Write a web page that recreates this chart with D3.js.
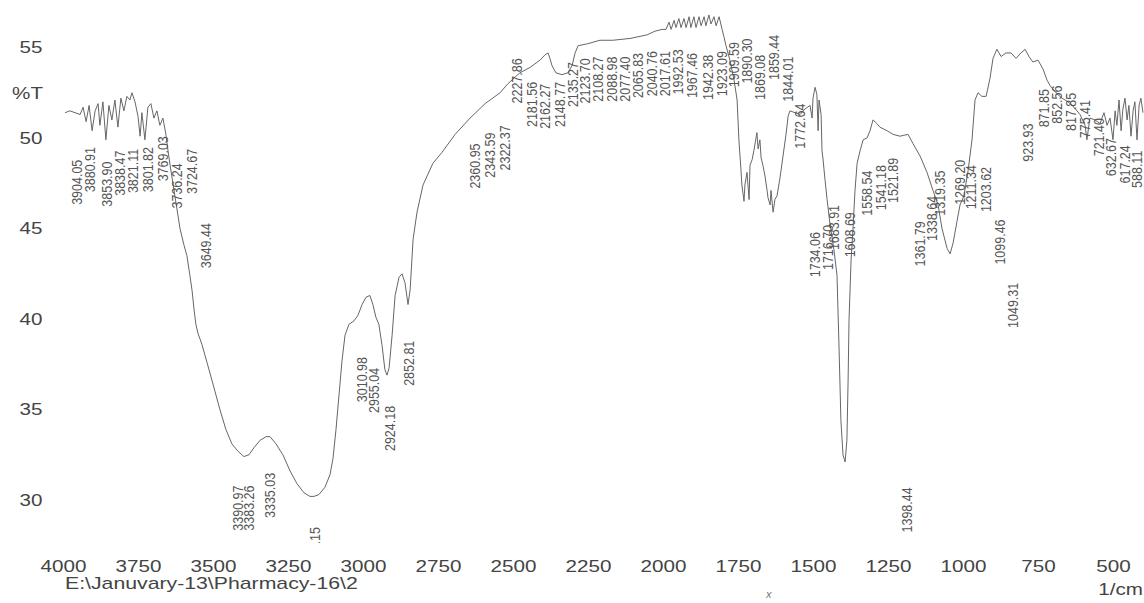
<!DOCTYPE html>
<html><head><meta charset="utf-8">
<script src="https://cdn.jsdelivr.net/npm/d3@7"></script>
<style>
body{margin:0;background:#fff;}
svg{display:block;}
</style></head><body>
<svg id="chart" width="1144" height="603"></svg>
<script>
// ---- data ----
const wavenumber = [3993,3977,3960,3943,3933,3923,3913,3903,3893,3883,3877,3867,3857,3847,3837,3827,3817,3807,3797,3787,3777,3770,3760,3750,3743,3737,3727,3717,3707,3697,3687,3677,3667,3657,3650,3643,3627,3610,3597,3587,3577,3570,3563,3557,3550,3537,3520,3500,3477,3457,3437,3417,3397,3380,3363,3343,3323,3310,3290,3267,3243,3220,3197,3177,3163,3147,3127,3110,3100,3090,3080,3070,3060,3047,3030,3017,3003,2990,2977,2967,2957,2947,2937,2927,2920,2913,2903,2893,2880,2870,2860,2850,2843,2833,2820,2800,2767,2737,2693,2643,2593,2543,2517,2477,2443,2410,2393,2383,2377,2370,2357,2337,2317,2303,2293,2283,2253,2210,2167,2110,2053,2027,2003,1990,1980,1973,1963,1957,1947,1940,1930,1923,1913,1907,1897,1890,1880,1873,1863,1857,1847,1840,1830,1823,1813,1803,1797,1790,1777,1763,1753,1747,1740,1737,1730,1727,1720,1713,1710,1703,1697,1690,1687,1683,1677,1673,1667,1660,1653,1650,1643,1640,1633,1627,1620,1610,1600,1590,1583,1577,1560,1543,1527,1510,1503,1500,1493,1487,1483,1480,1473,1470,1467,1460,1453,1443,1430,1420,1413,1407,1400,1393,1387,1383,1380,1373,1367,1360,1353,1343,1333,1320,1310,1300,1287,1277,1253,1233,1210,1183,1167,1143,1120,1100,1083,1070,1053,1043,1033,1020,1010,997,983,970,960,950,937,923,910,900,887,873,857,840,823,807,793,780,767,750,733,720,710,690,670,650,630,610,593,587,577,560,543,530,520,510,500,493,487,480,473,467,460,453,447,440,433,427,420,413,407,400];
const transmittance = [51.4,51.5,51.4,51.3,51.7,50.9,51.8,50.4,51.5,51.9,50.7,52.0,49.9,51.8,51.0,52.1,50.6,52.2,51.5,52.3,52.1,52.5,52.0,51.2,50.1,51.4,49.9,51.7,51.9,51.1,51.5,50.7,51.1,50.2,49.3,48.5,46.8,45.0,44.1,43.5,42.4,41.6,40.5,39.7,39.2,38.6,37.6,36.4,35.0,33.9,33.1,32.7,32.4,32.5,32.9,33.3,33.5,33.5,33.1,32.5,31.6,30.9,30.4,30.2,30.2,30.3,30.7,31.4,32.3,33.9,35.8,37.7,39.1,39.7,39.9,40.2,40.8,41.2,41.3,40.8,40.1,39.7,38.6,37.2,36.9,37.3,39.1,41.3,42.3,42.5,42.0,40.8,41.6,44.4,45.9,47.4,48.6,49.2,50.2,51.1,51.9,52.5,53.0,53.6,53.9,54.3,54.6,54.7,54.4,54.0,53.6,53.5,53.6,54.0,54.7,55.1,55.2,55.4,55.4,55.5,55.7,55.9,56.0,56.0,56.4,56.0,56.5,56.1,56.6,56.1,56.6,56.1,56.7,56.1,56.7,56.1,56.7,56.2,56.7,56.2,56.8,56.3,56.7,56.2,56.7,56.0,55.6,55.1,54.3,53.2,52.1,49.9,48.2,47.4,46.5,47.4,48.1,46.6,48.5,48.8,49.3,50.0,50.3,49.4,49.9,48.9,48.5,47.9,47.1,46.7,46.3,47.1,45.9,46.6,46.8,47.8,49.0,50.2,51.2,51.5,51.4,51.3,51.6,51.8,51.1,52.2,52.8,52.4,50.4,52.1,51.3,49.3,48.9,47.7,46.6,45.2,43.8,42.4,38.3,34.4,32.5,32.1,33.3,36.6,39.9,43.3,44.9,47.1,48.6,49.3,49.9,50.0,50.4,51.0,50.8,50.6,50.4,50.2,50.1,50.2,49.7,49.0,48.1,47.1,46.3,45.0,43.9,43.6,44.2,45.4,46.3,46.8,48.2,49.9,52.1,52.5,52.3,52.3,53.3,54.4,54.9,54.5,54.7,54.7,54.4,54.7,54.9,54.5,54.2,54.3,53.8,53.2,52.9,52.5,52.2,52.0,51.7,51.3,50.7,49.9,51.1,51.0,50.8,51.4,50.7,51.1,49.9,51.5,50.7,52.1,50.4,51.6,52.2,51.0,51.8,50.1,51.5,52.0,49.9,51.8,52.2,51.4];

const peakLabels = ["3904.05","3880.91","3853.90","3838.47","3821.11","3801.82","3769.03","3736.24","3724.67","3649.44","3390.97","3383.26","3335.03","3163.15","3010.98","2955.04","2924.18","2852.81","2360.95","2343.59","2322.37","2227.86","2181.56","2162.27","2148.77","2135.27","2123.70","2108.27","2088.98","2077.40","2065.83","2040.76","2017.61","1992.53","1967.46","1942.38","1923.09","1909.59","1890.30","1869.08","1859.44","1844.01","1772.64","1734.06","1716.70","1683.91","1608.69","1558.54","1541.18","1521.89","1398.44","1361.79","1338.64","1319.35","1269.20","1211.34","1203.62","1099.46","1049.31","923.93","871.85","852.56","817.85","775.41","721.40","632.67","617.24","588.11"];
// where each label is written (wavenumber of its column, %T at its upper end)
const labelAtW = [3953,3910,3853,3810,3767,3717,3667,3620,3570,3523,3417,3380,3310,3160,3003,2963,2910,2847,2627,2577,2527,2487,2437,2393,2343,2300,2260,2217,2170,2127,2083,2037,1993,1950,1903,1850,1803,1763,1720,1677,1630,1583,1543,1493,1450,1430,1377,1320,1273,1233,1187,1143,1103,1077,1010,973,923,877,833,783,730,687,640,593,547,507,460,420];
const labelAtT = [48.8,49.5,48.7,49.3,49.4,49.5,50.1,48.6,49.4,45.3,30.8,30.8,31.5,28.5,37.9,37.3,35.2,38.8,49.7,50.3,50.7,54.4,53.1,53.0,53.1,54.2,54.4,54.5,54.5,54.5,54.7,54.8,54.8,54.9,54.7,54.6,54.8,55.3,55.5,54.6,55.7,54.5,51.9,44.8,45.2,46.3,45.9,48.2,48.5,48.9,30.7,45.4,46.8,48.2,48.8,48.5,48.4,45.5,42.0,50.8,52.7,52.9,52.5,52.1,51.1,50.0,49.6,49.3];

const xTicks = [4000,3750,3500,3250,3000,2750,2500,2250,2000,1750,1500,1250,1000,750,500];
const yTicks = [55,50,45,40,35,30];
const yTitle = "%T";
const xUnit = "1/cm";
const filePath = "E:\\Januvary-13\\Pharmacy-16\\2";

// ---- drawing ----
const FONT = '"Liberation Sans", Arial, Helvetica, sans-serif';
const svg = d3.select('#chart');
const x = d3.scaleLinear().domain([4000, 400]).range([63, 1143]);
const y = d3.scaleLinear().domain([55, 30]).range([47.5, 500]);

svg.append('defs').append('clipPath').attr('id', 'plotclip')
  .append('rect').attr('x', 0).attr('y', 0).attr('width', 1144).attr('height', 543);

// x axis (labels only)
const gx = svg.append('g').attr('transform', 'translate(0,557.5)')
  .call(d3.axisBottom(x).tickValues(xTicks).tickSize(0).tickPadding(3).tickFormat(d3.format('d')));
gx.select('.domain').remove();
gx.attr('font-family', FONT).attr('font-size', 16.5);
gx.selectAll('text').attr('fill', '#444').attr('transform', 'scale(1.25,1)');

// y axis (labels only)
const gy = svg.append('g').attr('transform', 'translate(45,0)')
  .call(d3.axisLeft(y).tickValues(yTicks).tickSize(0).tickPadding(2));
gy.select('.domain').remove();
gy.attr('font-family', FONT).attr('font-size', 16.5);
gy.selectAll('text').attr('fill', '#444').attr('transform', 'scale(1.25,1)');

svg.append('text').attr('x', 0).attr('y', 0)
  .attr('transform', 'translate(43,99) scale(1.25,1)')
  .attr('text-anchor', 'end').attr('font-family', FONT).attr('font-size', 16.5).attr('fill', '#444')
  .text(yTitle);

// spectrum
const pts = wavenumber.map((w, i) => ({w, t: transmittance[i]}));
svg.append('path').datum(pts)
  .attr('fill', 'none').attr('stroke', '#666').attr('stroke-width', 1)
  .attr('stroke-linejoin', 'round')
  .attr('d', d3.line().x(d => x(d.w)).y(d => y(d.t)));

// peak labels
const gl = svg.append('g').attr('clip-path', 'url(#plotclip)');
gl.selectAll('text').data(peakLabels).join('text')
  .attr('transform', (d, i) => `translate(${x(labelAtW[i])},${y(labelAtT[i])}) rotate(-90) scale(1,1.1)`)
  .attr('text-anchor', 'end').attr('dy', '0.35em')
  .attr('font-family', FONT).attr('font-size', 12.5).attr('fill', '#555')
  .text(d => d);

// footer texts
svg.append('text').attr('transform', 'translate(65,589) scale(1.25,1)')
  .attr('font-family', FONT).attr('font-size', 17).attr('fill', '#444').text(filePath);
svg.append('text').attr('transform', 'translate(1143,595) scale(1.25,1)')
  .attr('text-anchor', 'end').attr('font-family', FONT).attr('font-size', 16.5).attr('fill', '#444').text(xUnit);
svg.append('text').attr('x', 766).attr('y', 598)
  .attr('font-family', FONT).attr('font-size', 11).attr('font-style', 'italic').attr('fill', '#777').text('x');
</script>
</body></html>
